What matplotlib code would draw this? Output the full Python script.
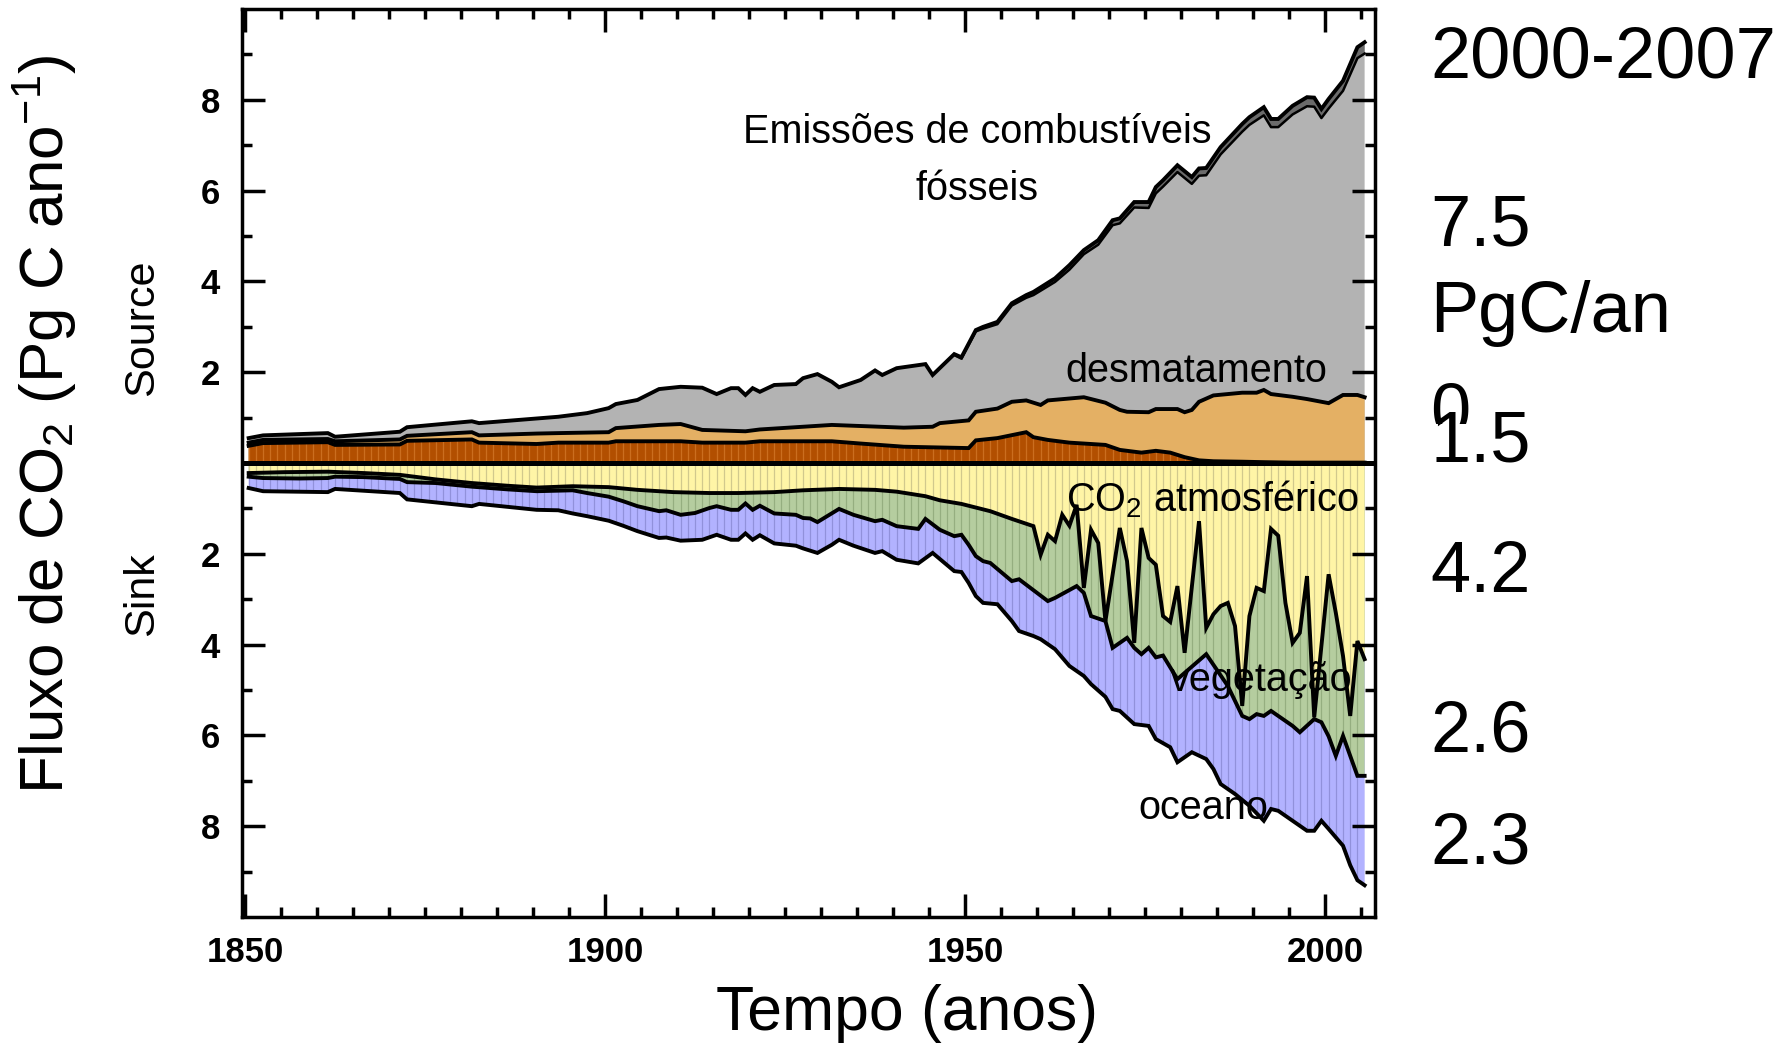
import numpy as np
import matplotlib
matplotlib.use('Agg')
import matplotlib.pyplot as plt
from matplotlib.collections import LineCollection
from matplotlib import font_manager as fm
from matplotlib.ticker import FixedLocator, FuncFormatter
from matplotlib.transforms import Bbox

# fontes: Arial -> Liberation Sans, Arial Narrow -> Liberation Sans Narrow (se houver)
nomes = {f.name for f in fm.fontManager.ttflist}
ARIAL = 'Liberation Sans'
if 'Liberation Sans Narrow' in nomes:
    ESTREITA, k = 'Liberation Sans Narrow', 1.0
else:
    ESTREITA, k = 'Liberation Sans', 0.84
plt.rcParams['font.family'] = [ARIAL, 'DejaVu Sans']
plt.rcParams['mathtext.fontset'] = 'custom'
plt.rcParams['mathtext.rm'] = ESTREITA
plt.rcParams['mathtext.it'] = ESTREITA
plt.rcParams['mathtext.bf'] = ESTREITA

# ---- dados (Pg C / ano), pares (ano, valor) ----
# fontes: topo total (fossil + uso da terra)
fonte_total = [(1850, 0.55), (1852, 0.61), (1861, 0.66), (1862, 0.58), (1871, 0.69), (1872, 0.79),
               (1881, 0.92), (1882, 0.88), (1893, 1.02), (1897, 1.10), (1900, 1.21), (1901, 1.30),
               (1904, 1.39), (1907, 1.63), (1910, 1.68), (1913, 1.66), (1915, 1.52), (1917, 1.65),
               (1918, 1.65), (1919, 1.50), (1920, 1.65), (1921, 1.57), (1923, 1.72), (1926, 1.74),
               (1927, 1.87), (1929, 1.96), (1931, 1.79), (1932, 1.67), (1935, 1.83), (1937, 2.04),
               (1938, 1.94), (1940, 2.09), (1944, 2.18), (1945, 1.94), (1948, 2.40), (1949, 2.33),
               (1951, 2.93), (1952, 3.00), (1954, 3.11), (1956, 3.52), (1958, 3.70), (1959, 3.77),
               (1962, 4.07), (1964, 4.36), (1966, 4.69), (1968, 4.91), (1970, 5.35), (1971, 5.39),
               (1973, 5.75), (1975, 5.75), (1976, 6.08), (1977, 6.23), (1979, 6.56), (1981, 6.30),
               (1982, 6.49), (1983, 6.50), (1985, 6.96), (1988, 7.47), (1989, 7.62), (1991, 7.84),
               (1992, 7.58), (1993, 7.58), (1995, 7.87), (1997, 8.06), (1998, 8.05), (1999, 7.80),
               (2000, 8.02), (2002, 8.42), (2004, 9.16), (2005, 9.27)]
# limite inferior da faixa cinza escura no topo
fonte_interna = [(1948, 2.38), (1949, 2.30), (1951, 2.90), (1952, 2.96), (1954, 3.06), (1956, 3.47),
                 (1958, 3.64), (1959, 3.70), (1962, 3.99), (1964, 4.26), (1966, 4.60), (1968, 4.81),
                 (1970, 5.24), (1971, 5.28), (1973, 5.63), (1975, 5.62), (1976, 5.94), (1977, 6.09),
                 (1979, 6.41), (1981, 6.15), (1982, 6.33), (1983, 6.34), (1985, 6.80), (1988, 7.30),
                 (1989, 7.45), (1991, 7.66), (1992, 7.40), (1993, 7.40), (1995, 7.68), (1997, 7.86),
                 (1998, 7.85), (1999, 7.60), (2000, 7.81), (2002, 8.20), (2004, 8.92), (2005, 9.02)]
# desmatamento total (topo laranja)
desmat = [(1850, 0.45), (1852, 0.51), (1861, 0.53), (1862, 0.48), (1871, 0.52), (1872, 0.60),
          (1881, 0.68), (1882, 0.61), (1890, 0.65), (1893, 0.66), (1900, 0.68), (1901, 0.77),
          (1907, 0.84), (1910, 0.86), (1913, 0.73), (1919, 0.70), (1921, 0.74), (1927, 0.80),
          (1931, 0.84), (1941, 0.78), (1945, 0.80), (1946, 0.88), (1950, 0.94), (1951, 1.13),
          (1954, 1.20), (1956, 1.35), (1958, 1.38), (1960, 1.28), (1961, 1.38), (1966, 1.45),
          (1969, 1.33), (1971, 1.17), (1972, 1.13), (1975, 1.12), (1976, 1.19), (1979, 1.19),
          (1980, 1.12), (1981, 1.17), (1982, 1.35), (1984, 1.49), (1988, 1.55), (1990, 1.55),
          (1991, 1.61), (1992, 1.52), (1995, 1.46), (1997, 1.41), (2000, 1.32), (2002, 1.50),
          (2004, 1.50), (2005, 1.45)]
# parte marrom (base)
marrom = [(1850, 0.38), (1852, 0.44), (1861, 0.46), (1862, 0.40), (1871, 0.41), (1872, 0.49),
          (1881, 0.52), (1882, 0.45), (1890, 0.42), (1893, 0.45), (1900, 0.45), (1901, 0.48),
          (1910, 0.48), (1913, 0.45), (1919, 0.45), (1921, 0.48), (1931, 0.48), (1935, 0.43),
          (1941, 0.36), (1950, 0.33), (1951, 0.50), (1954, 0.55), (1958, 0.68), (1959, 0.57),
          (1961, 0.51), (1964, 0.45), (1969, 0.40), (1971, 0.29), (1974, 0.23), (1976, 0.27),
          (1978, 0.23), (1980, 0.13), (1982, 0.06), (1984, 0.04), (1988, 0.03), (1991, 0.02),
          (1995, 0.01), (2005, 0.01)]

# sumidouros (negativos): CO2 atmosferico, vegetacao, oceano
atmos = [(1850, -0.22), (1855, -0.20), (1861, -0.19), (1866, -0.22), (1871, -0.26), (1876, -0.36),
         (1881, -0.44), (1886, -0.50), (1890, -0.54), (1895, -0.51), (1900, -0.53), (1904, -0.59),
         (1909, -0.64), (1914, -0.66), (1918, -0.66), (1923, -0.64), (1927, -0.60), (1932, -0.57),
         (1937, -0.59), (1940, -0.63), (1944, -0.73), (1946, -0.82), (1949, -0.90), (1953, -1.06),
         (1956, -1.23), (1959, -1.39), (1960, -2.02), (1961, -1.58), (1962, -1.72), (1963, -1.14),
         (1964, -1.38), (1965, -0.92), (1966, -2.75), (1967, -1.47), (1968, -1.76), (1969, -3.48),
         (1971, -1.43), (1972, -2.16), (1973, -3.96), (1974, -1.43), (1975, -2.09), (1976, -2.24),
         (1977, -3.37), (1978, -3.50), (1979, -2.71), (1980, -4.18), (1982, -1.28), (1983, -3.63),
         (1984, -3.33), (1985, -3.15), (1986, -3.08), (1987, -3.59), (1988, -5.35), (1989, -3.37),
         (1990, -2.75), (1991, -2.82), (1992, -1.45), (1993, -1.60), (1994, -3.08), (1995, -3.96),
         (1996, -3.74), (1997, -2.49), (1998, -5.60), (2000, -2.45), (2001, -3.30), (2002, -4.25),
         (2003, -5.57), (2004, -3.92), (2005, -4.32)]
vegetacao = [(1850, -0.30), (1852, -0.33), (1857, -0.34), (1861, -0.33), (1862, -0.30), (1866, -0.31),
             (1871, -0.35), (1872, -0.42), (1876, -0.44), (1881, -0.52), (1886, -0.58), (1890, -0.62),
             (1895, -0.60), (1897, -0.66), (1900, -0.74), (1902, -0.84), (1904, -0.95), (1907, -1.06),
             (1908, -1.04), (1910, -1.14), (1912, -1.10), (1914, -0.99), (1915, -0.95), (1917, -1.03),
             (1918, -1.03), (1919, -0.89), (1920, -1.03), (1921, -0.94), (1923, -1.11), (1926, -1.14),
             (1927, -1.21), (1928, -1.22), (1929, -1.30), (1932, -1.01), (1934, -1.14), (1937, -1.28),
             (1938, -1.25), (1940, -1.39), (1943, -1.45), (1944, -1.23), (1946, -1.47), (1948, -1.61),
             (1949, -1.58), (1950, -1.80), (1951, -2.05), (1952, -2.16), (1953, -2.20), (1956, -2.60),
             (1957, -2.56), (1961, -3.04), (1962, -2.97), (1965, -2.71), (1966, -2.86), (1967, -3.37),
             (1969, -3.48), (1970, -4.07), (1972, -3.85), (1973, -4.07), (1974, -4.21), (1975, -4.07),
             (1976, -4.28), (1977, -4.24), (1979, -4.76), (1983, -4.21), (1986, -4.91), (1988, -5.57),
             (1989, -5.64), (1990, -5.53), (1991, -5.57), (1992, -5.46), (1995, -5.79), (1996, -5.93),
             (1998, -5.64), (1999, -5.71), (2000, -6.02), (2001, -6.45), (2002, -6.01), (2004, -6.89),
             (2005, -6.89)]
oceano = [(1850, -0.55), (1852, -0.62), (1861, -0.64), (1862, -0.57), (1871, -0.66), (1872, -0.80),
          (1881, -0.95), (1882, -0.90), (1890, -1.03), (1893, -1.04), (1895, -1.11), (1897, -1.17),
          (1900, -1.27), (1902, -1.38), (1904, -1.50), (1907, -1.65), (1908, -1.64), (1910, -1.71),
          (1913, -1.69), (1915, -1.58), (1917, -1.69), (1918, -1.69), (1919, -1.55), (1920, -1.69),
          (1921, -1.59), (1923, -1.77), (1926, -1.82), (1927, -1.88), (1929, -1.98), (1931, -1.80),
          (1932, -1.69), (1934, -1.82), (1937, -1.98), (1938, -1.94), (1940, -2.13), (1943, -2.21),
          (1945, -1.98), (1948, -2.38), (1949, -2.40), (1950, -2.64), (1951, -2.93), (1952, -3.08),
          (1954, -3.11), (1956, -3.48), (1957, -3.70), (1959, -3.81), (1960, -3.88), (1962, -4.10),
          (1964, -4.47), (1966, -4.69), (1967, -4.87), (1969, -5.15), (1970, -5.42), (1971, -5.46),
          (1973, -5.75), (1975, -5.79), (1976, -6.08), (1978, -6.26), (1979, -6.59), (1981, -6.37),
          (1983, -6.52), (1984, -6.74), (1985, -7.07), (1987, -7.29), (1989, -7.55), (1991, -7.88),
          (1992, -7.62), (1993, -7.66), (1995, -7.88), (1997, -8.10), (1998, -8.10), (1999, -7.88),
          (2000, -8.06), (2002, -8.43), (2003, -8.86), (2004, -9.19), (2005, -9.30)]

# valores medios 2000-2007 (texto a direita)
resumo = ['7.5', '1.5', '4.2', '2.6', '2.3']

# cores
C_CINZA = '#b3b3b3'
C_CINZA_ESC = '#6b6b6b'
C_LARANJA = '#e4b064'
C_MARROM = '#b24f00'
C_AMARELO = '#fff5a6'
C_VERDE = '#b5cd9f'
C_AZUL = '#b2b2ff'


def serie(pares):
    a = np.array(pares, dtype=float)
    return a[:, 0] + 0.5, a[:, 1]   # valor anual no meio do ano


anos_listra = np.arange(1850, 2006) + 0.5


def area(ax, pares, cor, z, listra=None):
    x, y = serie(pares)
    poly = ax.fill(np.r_[x[0], x, x[-1]], np.r_[0, y, 0], color=cor, lw=0, zorder=z)[0]
    if listra is not None:
        segs = [[(xx, -10), (xx, 10)] for xx in anos_listra]
        lc = LineCollection(segs, colors=listra[0], linewidths=0.9, alpha=listra[1], zorder=z + 0.05)
        lc.set_clip_path(poly)
        ax.add_collection(lc)
    return x, y


fig = plt.figure(figsize=(17.85, 10.46), dpi=100)
ax = fig.add_axes([0.1356, 0.1233, 0.6347, 0.868])

# fontes (acima de zero)
area(ax, fonte_total, C_CINZA, 1.0)
xt, yt = serie(fonte_total)
xi, yi = serie(fonte_interna)
m = xt >= xi[0]
ax.fill(np.r_[xi, xt[m][::-1]], np.r_[yi, yt[m][::-1]], color=C_CINZA_ESC, lw=0, zorder=1.1)
area(ax, desmat, C_LARANJA, 1.2)
area(ax, marrom, C_MARROM, 1.3, listra=('#e0883a', 0.55))

# sumidouros (abaixo de zero)
area(ax, oceano, C_AZUL, 1.0, listra=('#6a6ab0', 0.45))
area(ax, vegetacao, C_VERDE, 1.2, listra=('#6f8a5c', 0.45))
area(ax, atmos, C_AMARELO, 1.3, listra=('#9a9470', 0.45))

for pares in [fonte_total, desmat, marrom, atmos, vegetacao, oceano]:
    x, y = serie(pares)
    ax.plot(x, y, color='k', lw=2.8, zorder=4, solid_joinstyle='miter')
ax.plot(xi, yi, color='k', lw=1.8, zorder=4)
ax.axhline(0, color='k', lw=3.6, zorder=5)

ax.set_xlim(1849.58, 2006.94)
ax.set_ylim(-10, 10)
ax.xaxis.set_major_locator(FixedLocator([1850, 1900, 1950, 2000]))
ax.xaxis.set_minor_locator(FixedLocator(np.arange(1855, 2006, 5)))
ax.yaxis.set_major_locator(FixedLocator([-8, -6, -4, -2, 2, 4, 6, 8]))
ax.yaxis.set_minor_locator(FixedLocator([-9, -7, -5, -3, -1, 1, 3, 5, 7, 9]))
ax.yaxis.set_major_formatter(FuncFormatter(lambda v, p: '%d' % abs(v)))
ax.tick_params(which='both', direction='in', top=True, right=True, width=2.5, zorder=6)
ax.tick_params(which='major', length=16.5)
ax.tick_params(which='minor', length=7.5)
ax.tick_params(axis='y', pad=16)
ax.tick_params(axis='x', pad=14)
for lab in ax.get_xticklabels() + ax.get_yticklabels():
    lab.set_fontsize(25)
    lab.set_fontweight('bold')
    lab.set_family(ARIAL)
for s in ax.spines.values():
    s.set_linewidth(2.5)
    s.set_zorder(7)

# rotulos internos
txt = dict(family=ESTREITA, color='k', ha='center', va='baseline', zorder=8)
ax.text(1951.7, 7.04, 'Emissões de combustíveis', fontsize=34 * k, **txt)
ax.text(1951.7, 5.79, 'fósseis', fontsize=34 * k, **txt)
ax.text(1982.1, 1.79, 'desmatamento', fontsize=34 * k, **txt)
ax.text(1984.3, -1.07, r'CO$_\mathrm{2}$ atmosférico', fontsize=34 * k, **txt)
ax.text(1991.2, -5.03, 'vegetação', fontsize=34 * k, **txt)
ax.text(1983.1, -7.84, 'oceano', fontsize=34 * k, **txt)

# eixos
fig.text(45 / 1785, 1 - 424 / 1046, r'Fluxo de CO$_\mathrm{2}$ (Pg C ano$^\mathrm{-1}$)',
         rotation=90, ha='center', va='center', fontsize=53 * k, family=ESTREITA)
fig.text(142 / 1785, 1 - 328 / 1046, 'Source', rotation=90, ha='center', va='center',
         fontsize=37 * k, family=ESTREITA)
fig.text(142 / 1785, 1 - 594 / 1046, 'Sink', rotation=90, ha='center', va='center',
         fontsize=37 * k, family=ESTREITA)
fig.text(907 / 1785, 1 - 1030 / 1046, 'Tempo (anos)', ha='center', va='baseline',
         fontsize=45, family=ARIAL)

# coluna da direita
xr = 1430 / 1785
fig.text(xr, 1 - 77 / 1046, '2000-2007', fontsize=52, family=ARIAL, va='baseline')
fig.text(xr, 1 - 245 / 1046, resumo[0], fontsize=52, family=ARIAL, va='baseline')
fig.text(xr, 1 - 332 / 1046, 'PgC/an', fontsize=52, family=ARIAL, va='baseline')
t0 = fig.text(xr, 1 - 433 / 1046, '0', fontsize=52, family=ARIAL, va='baseline')
t0.set_clip_box(Bbox.from_extents(0, 1046 - 424, 1785, 1046))
t0.set_clip_on(True)
fig.text(xr, 1 - 461 / 1046, resumo[1], fontsize=52, family=ARIAL, va='baseline')
fig.text(xr, 1 - 592 / 1046, resumo[2], fontsize=52, family=ARIAL, va='baseline')
fig.text(xr, 1 - 751 / 1046, resumo[3], fontsize=52, family=ARIAL, va='baseline')
fig.text(xr, 1 - 863 / 1046, resumo[4], fontsize=52, family=ARIAL, va='baseline')

fig.savefig('out.png', dpi=100)
